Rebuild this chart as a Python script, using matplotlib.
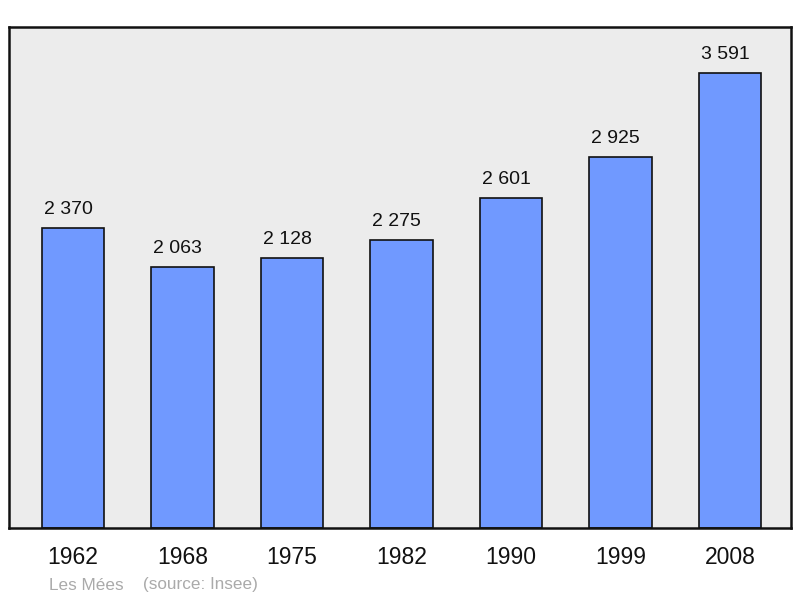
import matplotlib
matplotlib.use("Agg")
import matplotlib.pyplot as plt

years = ["1962", "1968", "1975", "1982", "1990", "1999", "2008"]
population = [2370, 2063, 2128, 2275, 2601, 2925, 3591]
value_labels = ["2 370", "2 063", "2 128", "2 275", "2 601", "2 925", "3 591"]

plt.rcParams['font.family'] = ['Liberation Sans', 'DejaVu Sans']

fig = plt.figure(figsize=(8, 5.98), dpi=100)
ax = fig.add_axes([9/800, 70/598, 782/800, 501/598])
ax.set_facecolor('#ececec')
x = list(range(len(years)))
ax.bar(x, population, width=0.57, color='#7099ff', edgecolor='#111111', linewidth=1.2, zorder=2)
for xi, v, lab in zip(x, population, value_labels):
    ax.annotate(lab, (xi, v), xytext=(-5, 14), textcoords='offset pixels',
                ha='center', va='baseline', fontsize=14, color='#111111')
ax.set_xlim(-0.584, 6.557)
ax.set_ylim(0, 3954)
ax.set_yticks([])
ax.set_xticks(x)
ax.set_xticklabels(years, fontsize=16.5, color='#111111')
ax.tick_params(axis='x', length=0, pad=13)
for s in ax.spines.values():
    s.set_linewidth(1.8)
    s.set_color('#111111')

fig.text(49/800, 1 - 585/598, "Les Mées", fontsize=12.3, color='#aaaaaa', va='center', ha='left')
fig.text(143/800, 1 - 585/598, "(source: Insee)", fontsize=12.3, color='#aaaaaa', va='center', ha='left')

fig.savefig("out.png", dpi=100)
